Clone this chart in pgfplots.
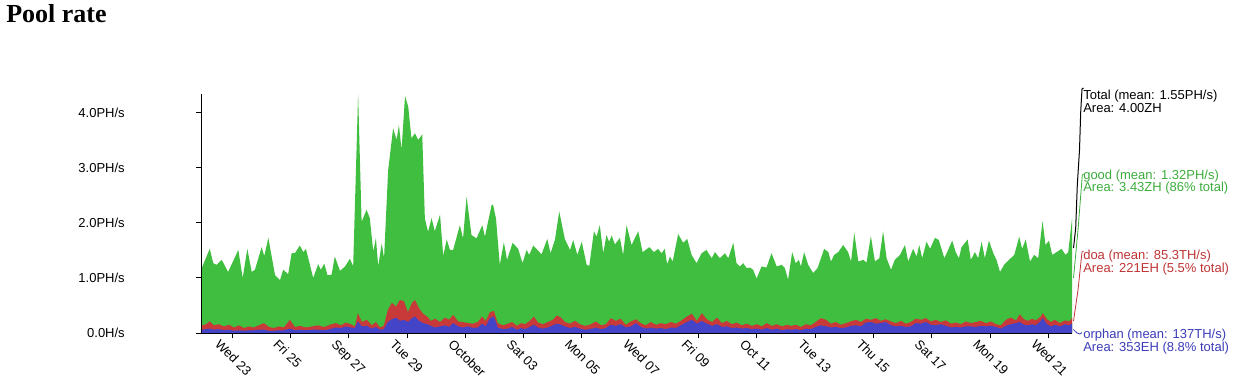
\documentclass[border=0pt]{standalone}
\usepackage{fontspec}
\setmainfont{Liberation Sans}
\newfontfamily\titlefont{Liberation Serif}
\usepackage{pgfplots}
\usepackage{pgfplotstable}
\pgfplotsset{compat=1.18}
\definecolor{goodg}{RGB}{64,190,64}
\definecolor{doar}{RGB}{200,58,58}
\definecolor{orphb}{RGB}{68,68,200}
\definecolor{goodt}{RGB}{60,172,60}
\definecolor{doat}{RGB}{190,52,52}
\definecolor{orpht}{RGB}{60,60,185}

% total (good+doa+orphan), PH/s ; d = days since Sep 23
\pgfplotstableread{
d t
-1.07 1.15
-0.77 1.53
-0.65 1.27
-0.54 1.24
-0.36 1.33
-0.14 1.11
0.21 1.51
0.36 1.00
0.52 1.53
0.67 1.11
0.78 1.15
1.01 1.56
1.10 1.40
1.24 1.73
1.47 1.05
1.64 0.96
1.75 1.15
1.92 1.07
2.04 1.45
2.15 1.45
2.32 1.59
2.44 1.47
2.53 1.53
2.78 1.00
2.95 1.25
3.04 1.15
3.16 1.26
3.27 1.05
3.41 1.06
3.52 1.39
3.70 1.13
3.87 1.21
4.04 1.35
4.15 1.21
4.32 4.34
4.44 2.02
4.61 2.24
4.72 2.09
4.84 1.48
4.93 1.73
5.01 1.21
5.13 1.63
5.21 1.36
5.35 2.96
5.52 3.72
5.64 3.51
5.72 3.78
5.81 3.33
5.93 4.31
6.04 4.11
6.15 3.54
6.27 3.63
6.38 3.51
6.52 3.61
6.61 2.08
6.72 1.84
6.84 2.09
6.95 1.85
7.13 2.15
7.24 1.40
7.36 1.70
7.47 1.51
7.58 1.51
7.81 1.96
7.92 1.72
8.04 2.48
8.21 1.78
8.38 1.72
8.58 1.96
8.67 1.75
8.90 2.33
8.95 2.33
9.05 2.08
9.18 1.24
9.32 1.65
9.43 1.33
9.62 1.64
9.81 1.53
9.96 1.27
10.10 1.51
10.19 1.42
10.33 1.59
10.61 1.43
10.81 1.71
10.92 1.45
11.07 1.69
11.22 2.21
11.41 1.71
11.59 1.51
11.70 1.69
11.84 1.42
11.99 1.66
12.16 1.24
12.25 1.22
12.41 1.85
12.50 1.75
12.61 1.96
12.73 1.45
12.84 1.78
12.93 1.66
13.02 1.77
13.13 1.61
13.30 1.73
13.41 1.42
13.53 1.96
13.70 1.60
13.93 1.85
14.08 1.47
14.31 1.56
14.47 1.47
14.61 1.53
14.73 1.45
14.84 1.53
14.92 1.25
15.02 1.39
15.11 1.30
15.30 1.80
15.47 1.64
15.61 1.71
15.76 1.42
15.93 1.27
16.10 1.45
16.27 1.51
16.45 1.36
16.56 1.47
16.73 1.36
16.90 1.45
17.02 1.36
17.19 1.64
17.30 1.27
17.42 1.21
17.53 1.27
17.65 1.18
17.76 1.19
17.87 1.15
17.99 0.99
18.16 1.21
18.33 1.19
18.50 1.45
18.68 1.21
18.85 1.24
18.96 1.18
19.07 0.97
19.21 1.47
19.33 1.27
19.44 1.33
19.51 1.21
19.62 1.47
19.76 1.24
19.93 1.09
20.08 1.18
20.31 1.53
20.45 1.47
20.54 1.30
20.65 1.42
20.79 1.47
20.96 1.60
21.13 1.47
21.23 1.30
21.34 1.82
21.48 1.30
21.65 1.33
21.76 1.28
21.91 1.76
22.05 1.30
22.20 1.36
22.33 1.85
22.45 1.36
22.60 1.15
22.73 1.33
22.91 1.42
23.08 1.60
23.19 1.30
23.36 1.53
23.48 1.39
23.57 1.60
23.67 1.36
23.82 1.66
23.94 1.53
24.11 1.73
24.24 1.69
24.43 1.36
24.56 1.51
24.70 1.68
24.82 1.47
24.93 1.36
25.02 1.56
25.23 1.70
25.34 1.33
25.48 1.47
25.59 1.36
25.71 1.66
25.82 1.36
25.96 1.68
26.11 1.45
26.22 1.33
26.34 1.11
26.48 1.24
26.65 1.33
26.83 1.42
27.00 1.75
27.10 1.53
27.22 1.70
27.37 1.30
27.51 1.42
27.65 1.36
27.80 2.04
27.90 1.60
28.02 1.68
28.13 1.42
28.28 1.47
28.45 1.53
28.59 1.42
28.68 1.47
28.81 2.08
}\totaltab

% r = orphan+doa (top of red), b = orphan (top of blue), PH/s
\pgfplotstableread{
d r b
-1.07 0.13 0.06
-0.90 0.16 0.07
-0.77 0.21 0.08
-0.63 0.14 0.06
-0.46 0.16 0.07
-0.28 0.12 0.05
-0.11 0.15 0.06
0.06 0.10 0.04
0.23 0.14 0.05
0.40 0.09 0.04
0.57 0.12 0.05
0.74 0.10 0.05
0.91 0.14 0.06
1.09 0.18 0.06
1.26 0.11 0.04
1.43 0.09 0.04
1.60 0.12 0.05
1.77 0.10 0.05
1.98 0.24 0.08
2.15 0.11 0.05
2.32 0.13 0.06
2.53 0.10 0.05
2.74 0.12 0.06
2.94 0.14 0.06
3.15 0.11 0.05
3.35 0.15 0.07
3.56 0.18 0.10
3.73 0.14 0.09
3.90 0.19 0.12
4.07 0.16 0.10
4.21 0.12 0.09
4.31 0.36 0.21
4.45 0.20 0.12
4.62 0.24 0.13
4.79 0.14 0.08
4.93 0.20 0.11
5.07 0.10 0.06
5.20 0.13 0.07
5.34 0.42 0.20
5.48 0.55 0.25
5.62 0.48 0.28
5.75 0.60 0.22
5.89 0.58 0.24
6.03 0.38 0.20
6.17 0.55 0.27
6.27 0.60 0.30
6.41 0.45 0.22
6.55 0.35 0.18
6.69 0.30 0.16
6.82 0.22 0.13
6.96 0.26 0.10
7.13 0.20 0.12
7.30 0.28 0.14
7.44 0.24 0.11
7.58 0.33 0.18
7.75 0.21 0.12
7.92 0.20 0.10
8.09 0.18 0.12
8.26 0.17 0.09
8.43 0.20 0.10
8.57 0.30 0.17
8.70 0.22 0.12
8.84 0.38 0.27
8.98 0.40 0.30
9.11 0.18 0.10
9.29 0.14 0.07
9.46 0.17 0.08
9.60 0.20 0.11
9.77 0.13 0.06
9.91 0.18 0.09
10.04 0.16 0.07
10.21 0.22 0.11
10.35 0.30 0.15
10.49 0.19 0.10
10.66 0.16 0.08
10.83 0.20 0.10
11.00 0.24 0.14
11.14 0.32 0.17
11.28 0.28 0.15
11.41 0.20 0.12
11.58 0.17 0.09
11.76 0.22 0.11
11.93 0.16 0.08
12.10 0.13 0.06
12.27 0.15 0.07
12.48 0.21 0.10
12.65 0.14 0.07
12.82 0.16 0.09
12.99 0.27 0.15
13.16 0.22 0.13
13.33 0.26 0.16
13.50 0.15 0.10
13.68 0.21 0.12
13.85 0.25 0.18
14.02 0.18 0.11
14.19 0.14 0.08
14.36 0.20 0.10
14.54 0.15 0.08
14.71 0.18 0.09
14.88 0.16 0.07
15.05 0.20 0.10
15.22 0.17 0.09
15.39 0.22 0.14
15.60 0.30 0.20
15.77 0.35 0.24
15.94 0.22 0.17
16.11 0.36 0.22
16.28 0.25 0.17
16.46 0.20 0.13
16.63 0.28 0.16
16.80 0.18 0.11
16.97 0.22 0.12
17.14 0.16 0.09
17.31 0.19 0.10
17.48 0.14 0.08
17.65 0.17 0.09
17.83 0.13 0.07
18.00 0.16 0.08
18.17 0.12 0.06
18.34 0.18 0.09
18.51 0.13 0.06
18.68 0.16 0.08
18.86 0.12 0.05
19.03 0.15 0.07
19.17 0.13 0.06
19.34 0.15 0.07
19.51 0.11 0.05
19.68 0.16 0.08
19.85 0.14 0.07
20.02 0.20 0.11
20.19 0.27 0.14
20.37 0.24 0.12
20.54 0.17 0.10
20.71 0.20 0.11
20.88 0.15 0.09
21.05 0.18 0.10
21.22 0.21 0.13
21.40 0.24 0.14
21.57 0.20 0.12
21.74 0.26 0.19
21.91 0.24 0.20
22.08 0.27 0.17
22.25 0.22 0.18
22.42 0.25 0.20
22.60 0.21 0.14
22.77 0.18 0.12
22.94 0.22 0.13
23.11 0.17 0.11
23.28 0.20 0.12
23.45 0.26 0.18
23.63 0.24 0.17
23.80 0.27 0.20
23.97 0.21 0.15
24.14 0.24 0.14
24.31 0.20 0.16
24.48 0.23 0.13
24.66 0.17 0.10
24.83 0.19 0.11
25.00 0.16 0.10
25.17 0.21 0.12
25.34 0.18 0.12
25.51 0.20 0.11
25.68 0.22 0.13
25.86 0.18 0.12
26.03 0.21 0.13
26.20 0.16 0.11
26.37 0.14 0.08
26.54 0.24 0.13
26.71 0.28 0.16
26.89 0.23 0.18
27.02 0.34 0.20
27.16 0.25 0.15
27.30 0.22 0.14
27.44 0.26 0.16
27.57 0.23 0.14
27.74 0.30 0.22
27.81 0.36 0.27
27.95 0.25 0.16
28.09 0.20 0.12
28.22 0.24 0.15
28.40 0.18 0.12
28.57 0.23 0.16
28.71 0.21 0.14
28.81 0.27 0.17
}\bottab

\newcommand{\lab}{\fontsize{9.75pt}{11.7pt}\selectfont}

\begin{document}
\begin{tikzpicture}
\path[use as bounding box] (0,0) rectangle (929.25pt,287.25pt);
\begin{axis}[
  at={(150.75pt,37.5pt)}, anchor=south west,
  scale only axis, width=653.25pt, height=179.25pt,
  xmin=-1.07, xmax=28.81, ymin=0, ymax=4.345,
  axis x line=bottom, axis y line=left,
  axis line style={-, line width=0.75pt, black},
  tick align=outside, major tick length=3.75pt,
  tick style={black, line width=0.75pt},
  xtick={0,2,...,28},
  xticklabels={Wed 23,Fri 25,Sep 27,Tue 29,October,Sat 03,Mon 05,Wed 07,Fri 09,Oct 11,Tue 13,Thu 15,Sat 17,Mon 19,Wed 21},
  ytick={0,1,2,3,4},
  yticklabels={0.0H/s,1.0PH/s,2.0PH/s,3.0PH/s,4.0PH/s},
  /pgf/number format/assume math mode=true,
  ticklabel style={font=\lab, inner sep=0pt},
  xticklabel style={anchor=base west, xshift=-13.5pt, yshift=-5.25pt, rotate=-45},
  yticklabel style={anchor=east, xshift=-53.25pt},
  clip=false,
  axis on top,
]
\addplot[fill=goodg, draw=none] table[x=d, y=t] {\totaltab} \closedcycle;
\addplot[fill=doar, draw=none] table[x=d, y=r] {\bottab} \closedcycle;
\addplot[fill=orphb, draw=none] table[x=d, y=b] {\bottab} \closedcycle;
\end{axis}

\begin{scope}[shift={(0,287.25pt)}, x=0.75pt, y=-0.75pt]
\node[anchor=base west, inner sep=0pt, font=\titlefont\bfseries\fontsize{19.5pt}{23pt}\selectfont] at (6,23) {Pool rate};
% leader lines
\draw[black, line width=0.75pt] (1073.5,248) -- (1075.7,228) -- (1077.3,185) -- (1079.5,150) -- (1080.7,112) -- (1082,89) -- (1083.5,88);
\draw[goodt, line width=0.6pt] (1073.5,278) -- (1078,230) -- (1082.3,175) -- (1083.5,174);
\draw[doat, line width=0.6pt] (1073.5,321) -- (1078,290) -- (1082,252) -- (1083.5,251);
\draw[orpht, line width=0.6pt] (1073.3,329.5) -- (1077,333) -- (1080,334) -- (1082,332.5);
% labels
\node[anchor=base west, inner sep=0pt, font=\lab, black] at (1083,99.5) {Total (mean: 1.55PH/s)};
\node[anchor=base west, inner sep=0pt, font=\lab, black] at (1083,112) {Area: 4.00ZH};
\node[anchor=base west, inner sep=0pt, font=\lab, goodt] at (1083,179.5) {good (mean: 1.32PH/s)};
\node[anchor=base west, inner sep=0pt, font=\lab, goodt] at (1083,191.5) {Area: 3.43ZH (86\% total)};
\node[anchor=base west, inner sep=0pt, font=\lab, doat] at (1083,259.5) {doa (mean: 85.3TH/s)};
\node[anchor=base west, inner sep=0pt, font=\lab, doat] at (1083,272) {Area: 221EH (5.5\% total)};
\node[anchor=base west, inner sep=0pt, font=\lab, orpht] at (1083,338.5) {orphan (mean: 137TH/s)};
\node[anchor=base west, inner sep=0pt, font=\lab, orpht] at (1083,351.5) {Area: 353EH (8.8\% total)};
\end{scope}
\end{tikzpicture}
\end{document}
